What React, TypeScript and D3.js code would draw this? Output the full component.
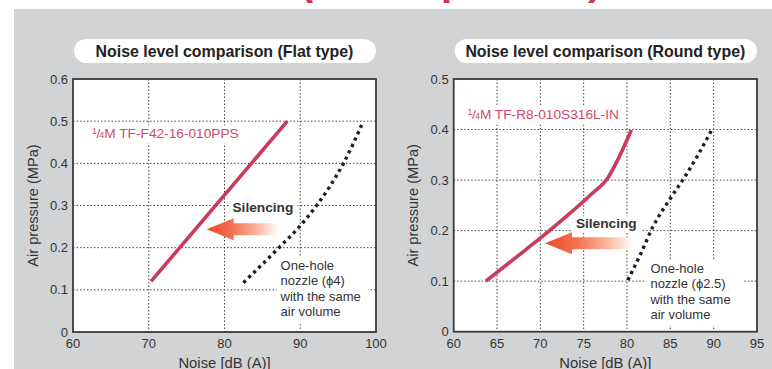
import React from "react";
import * as d3 from "d3";

// ---------- data ----------
const flatXTicks = [60, 70, 80, 90, 100];
const flatYTicks = [0, 0.1, 0.2, 0.3, 0.4, 0.5, 0.6];
const flatSilentNoise = [70.3, 88.3];
const flatSilentPressure = [0.12, 0.5];
const flatNozzleNoise = [82.5, 87.3, 89.7, 92.2, 93.9, 95.7, 97.0, 98.1];
const flatNozzlePressure = [0.117, 0.202, 0.246, 0.301, 0.345, 0.4, 0.447, 0.491];

const roundXTicks = [60, 65, 70, 75, 80, 85, 90, 95];
const roundYTicks = [0, 0.1, 0.2, 0.3, 0.4, 0.5];
const roundSilentNoise = [63.7, 68.3, 70.7, 73.0, 76.0, 77.7, 79.1, 80.5];
const roundSilentPressure = [0.1, 0.162, 0.195, 0.228, 0.274, 0.302, 0.346, 0.399];
const roundNozzleNoise = [80.1, 81.6, 83.0, 84.9, 86.8, 88.3, 89.8];
const roundNozzlePressure = [0.102, 0.155, 0.208, 0.261, 0.31, 0.353, 0.4];

const flatTitle = "Noise level comparison (Flat type)";
const roundTitle = "Noise level comparison (Round type)";
const flatModel = "M TF-F42-16-010PPS";
const roundModel = "M TF-R8-010S316L-IN";
const flatNote = ["One-hole", "nozzle (\u03d54)", "with the same", "air volume"];
const roundNote = ["One-hole", "nozzle (\u03d52.5)", "with the same", "air volume"];
const silencingLabel = "Silencing";
const xAxisTitle = "Noise [dB (A)]";
const yAxisTitle = "Air pressure (MPa)";

// annotation anchors (data units)
const flatArrow = { tipX: 77.65, y: 0.2435, endX: 87.1 };
const roundArrow = { tipX: 70.54, y: 0.175, endX: 80.7 };
const flatSilencingPos = { x: 81.05, y: 0.285 };
const roundSilencingPos = { x: 74.1, y: 0.2046 };
const flatModelPos = { x: 62.5, y: 0.459 };
const roundModelPos = { x: 61.6, y: 0.42 };
const flatNotePos = { x: 87.4, y: 0.148 };
const roundNotePos = { x: 82.7, y: 0.117 };

const FONT = "'Liberation Sans', Arial, Helvetica, sans-serif";
const RED = "#c93a5b";
const RED_TEXT = "#d0496a";
const TEXT = "#333";

type PanelProps = {
  id: string;
  left: number;
  right: number;
  top: number;
  bottom: number;
  xTicks: number[];
  yTicks: number[];
  title: string;
  silentX: number[];
  silentY: number[];
  nozzleX: number[];
  nozzleY: number[];
  model: string;
  modelPos: { x: number; y: number };
  note: string[];
  notePos: { x: number; y: number };
  noteBox: [number, number];
  arrow: { tipX: number; y: number; endX: number };
  silPos: { x: number; y: number };
  yLabelX: number;
};

function Panel(p: PanelProps) {
  const x = d3
    .scaleLinear()
    .domain([p.xTicks[0], p.xTicks[p.xTicks.length - 1]])
    .range([p.left, p.right]);
  const y = d3
    .scaleLinear()
    .domain([p.yTicks[0], p.yTicks[p.yTicks.length - 1]])
    .range([p.bottom, p.top]);

  const mk = (xs: number[], ys: number[], curve: d3.CurveFactory) =>
    d3
      .line<number>()
      .x((d) => x(d))
      .y((_, i) => y(ys[i]))
      .curve(curve)(xs) || "";

  const silentPath = mk(p.silentX, p.silentY, d3.curveMonotoneX);
  const nozzlePath = mk(p.nozzleX, p.nozzleY, d3.curveMonotoneX);

  const innerX = p.xTicks.slice(1, -1);
  const innerY = p.yTicks.slice(1, -1);

  const tipX = x(p.arrow.tipX);
  const ay = y(p.arrow.y);
  const endX = x(p.arrow.endX);
  const headW = 27;
  const headH = 11;
  const shaftH = 6;
  const arrowPath = `M${tipX},${ay} L${tipX + headW},${ay - headH} L${tipX + headW},${ay - shaftH} L${endX},${ay - shaftH} L${endX},${ay + shaftH} L${tipX + headW},${ay + shaftH} L${tipX + headW},${ay + headH} Z`;

  const cx = (p.left + p.right) / 2;
  const midY = (p.top + p.bottom) / 2;

  const mx = x(p.modelPos.x);
  const my = y(p.modelPos.y);
  const nx = x(p.notePos.x);
  const ny = y(p.notePos.y);
  const sx = x(p.silPos.x);
  const sy = y(p.silPos.y);

  return (
    <g fontFamily={FONT}>
      <defs>
        <linearGradient id={`grad-${p.id}`} x1={tipX} x2={endX} y1={0} y2={0} gradientUnits="userSpaceOnUse">
          <stop offset="0" stopColor="#ee4a28" />
          <stop offset="0.35" stopColor="#f2704e" />
          <stop offset="0.7" stopColor="#f8b49c" />
          <stop offset="1" stopColor="#ffffff" />
        </linearGradient>
      </defs>
      {/* title pill */}
      <rect x={p.left + 1} y={39} width={p.right - p.left - 1} height={24} rx={12} fill="#fff" />
      <text x={cx} y={57.3} textAnchor="middle" fontWeight="bold" fontSize={15.9} fill="#222">
        {p.title}
      </text>

      {/* plot area */}
      <rect x={p.left} y={p.top} width={p.right - p.left} height={p.bottom - p.top} fill="#fff" />

      {/* grid */}
      {innerX.map((t) => (
        <line key={`gx${t}`} x1={x(t)} x2={x(t)} y1={p.top} y2={p.bottom} stroke="#444" strokeWidth={1} strokeDasharray="1.5,2" />
      ))}
      {innerY.map((t) => (
        <line key={`gy${t}`} x1={p.left} x2={p.right} y1={y(t)} y2={y(t)} stroke="#444" strokeWidth={1} strokeDasharray="1.5,2" />
      ))}

      {/* white boxes behind annotations */}
      <rect x={mx - 3} y={my - 13} width={152} height={18} fill="#fff" />
      <rect x={nx - 4} y={ny - 13} width={p.noteBox[0]} height={p.noteBox[1]} fill="#fff" />
      <rect x={sx - 3} y={sy - 12} width={68} height={16} fill="#fff" />

      {/* arrow */}
      <path d={arrowPath} fill={`url(#grad-${p.id})`} />

      {/* series */}
      <path d={nozzlePath} fill="none" stroke="#1e1e1e" strokeWidth={3.4} strokeDasharray="3.2,3.8" />
      <path d={silentPath} fill="none" stroke={RED} strokeWidth={3.6} strokeLinecap="butt" strokeLinejoin="round" />

      {/* frame */}
      <rect x={p.left} y={p.top} width={p.right - p.left} height={p.bottom - p.top} fill="none" stroke="#3a3a3a" strokeWidth={1.8} />

      {/* tick labels */}
      {p.yTicks.map((t) => (
        <text key={`ty${t}`} x={p.left - 5} y={y(t) + 4.6} textAnchor="end" fontSize={13} fill={TEXT}>
          {t === 0 ? "0" : t.toFixed(1)}
        </text>
      ))}
      {p.xTicks.map((t) => (
        <text key={`tx${t}`} x={x(t)} y={347.5} textAnchor="middle" fontSize={13} fill={TEXT}>
          {t}
        </text>
      ))}

      {/* axis titles */}
      <text x={cx} y={368} textAnchor="middle" fontSize={14.8} fill={TEXT}>
        {xAxisTitle}
      </text>
      <text
        transform={`translate(${p.yLabelX},${midY}) rotate(-90)`}
        textAnchor="middle"
        fontSize={14.6}
        fill={TEXT}
      >
        {yAxisTitle}
      </text>

      {/* model label */}
      <text x={mx} y={my} fontSize={13.7} fill={RED_TEXT}>
        <tspan fontSize={9} dy={-4.5}>1</tspan>
        <tspan dy={4.5} dx={-0.5}>/</tspan>
        <tspan fontSize={9} dx={-1}>4</tspan>
        <tspan>{p.model}</tspan>
      </text>

      {/* silencing */}
      <text x={sx} y={sy} fontSize={13.7} fontWeight="bold" fill={TEXT}>
        {silencingLabel}
      </text>

      {/* note */}
      <text x={nx} y={ny} fontSize={13} fill={TEXT}>
        {p.note.map((s, i) => (
          <tspan key={i} x={nx} dy={i === 0 ? 0 : 15.5}>
            {s}
          </tspan>
        ))}
      </text>
    </g>
  );
}

export default function App() {
  return (
    <svg
      width={772}
      height={369}
      viewBox="0 0 772 369"
      style={{ position: "absolute", left: 0, top: 0, display: "block" }}
    >
      <rect x={0} y={0} width={772} height={369} fill="#fff" />
      {/* cut-off heading glyphs at the very top */}
      <g fontFamily={FONT} fontWeight="bold" fontSize={40} fill="#d0344f">
        <text x={300} y={-5}>(</text>
        <text x={441} y={-5}>p</text>
        <text x={588} y={-5}>)</text>
      </g>
      <rect x={14} y={9} width={758} height={360} fill="#d2d3d5" />
      <Panel
        id="flat"
        left={73}
        right={376}
        top={79}
        bottom={332}
        xTicks={flatXTicks}
        yTicks={flatYTicks}
        title={flatTitle}
        silentX={flatSilentNoise}
        silentY={flatSilentPressure}
        nozzleX={flatNozzleNoise}
        nozzleY={flatNozzlePressure}
        model={flatModel}
        modelPos={flatModelPos}
        note={flatNote}
        notePos={flatNotePos}
        noteBox={[92, 66]}
        arrow={flatArrow}
        silPos={flatSilencingPos}
        yLabelX={38}
      />
      <Panel
        id="round"
        left={453.7}
        right={757}
        top={79}
        bottom={331.7}
        xTicks={roundXTicks}
        yTicks={roundYTicks}
        title={roundTitle}
        silentX={roundSilentNoise}
        silentY={roundSilentPressure}
        nozzleX={roundNozzleNoise}
        nozzleY={roundNozzlePressure}
        model={roundModel}
        modelPos={roundModelPos}
        note={roundNote}
        notePos={roundNotePos}
        noteBox={[96, 66]}
        arrow={roundArrow}
        silPos={roundSilencingPos}
        yLabelX={418}
      />
    </svg>
  );
}
